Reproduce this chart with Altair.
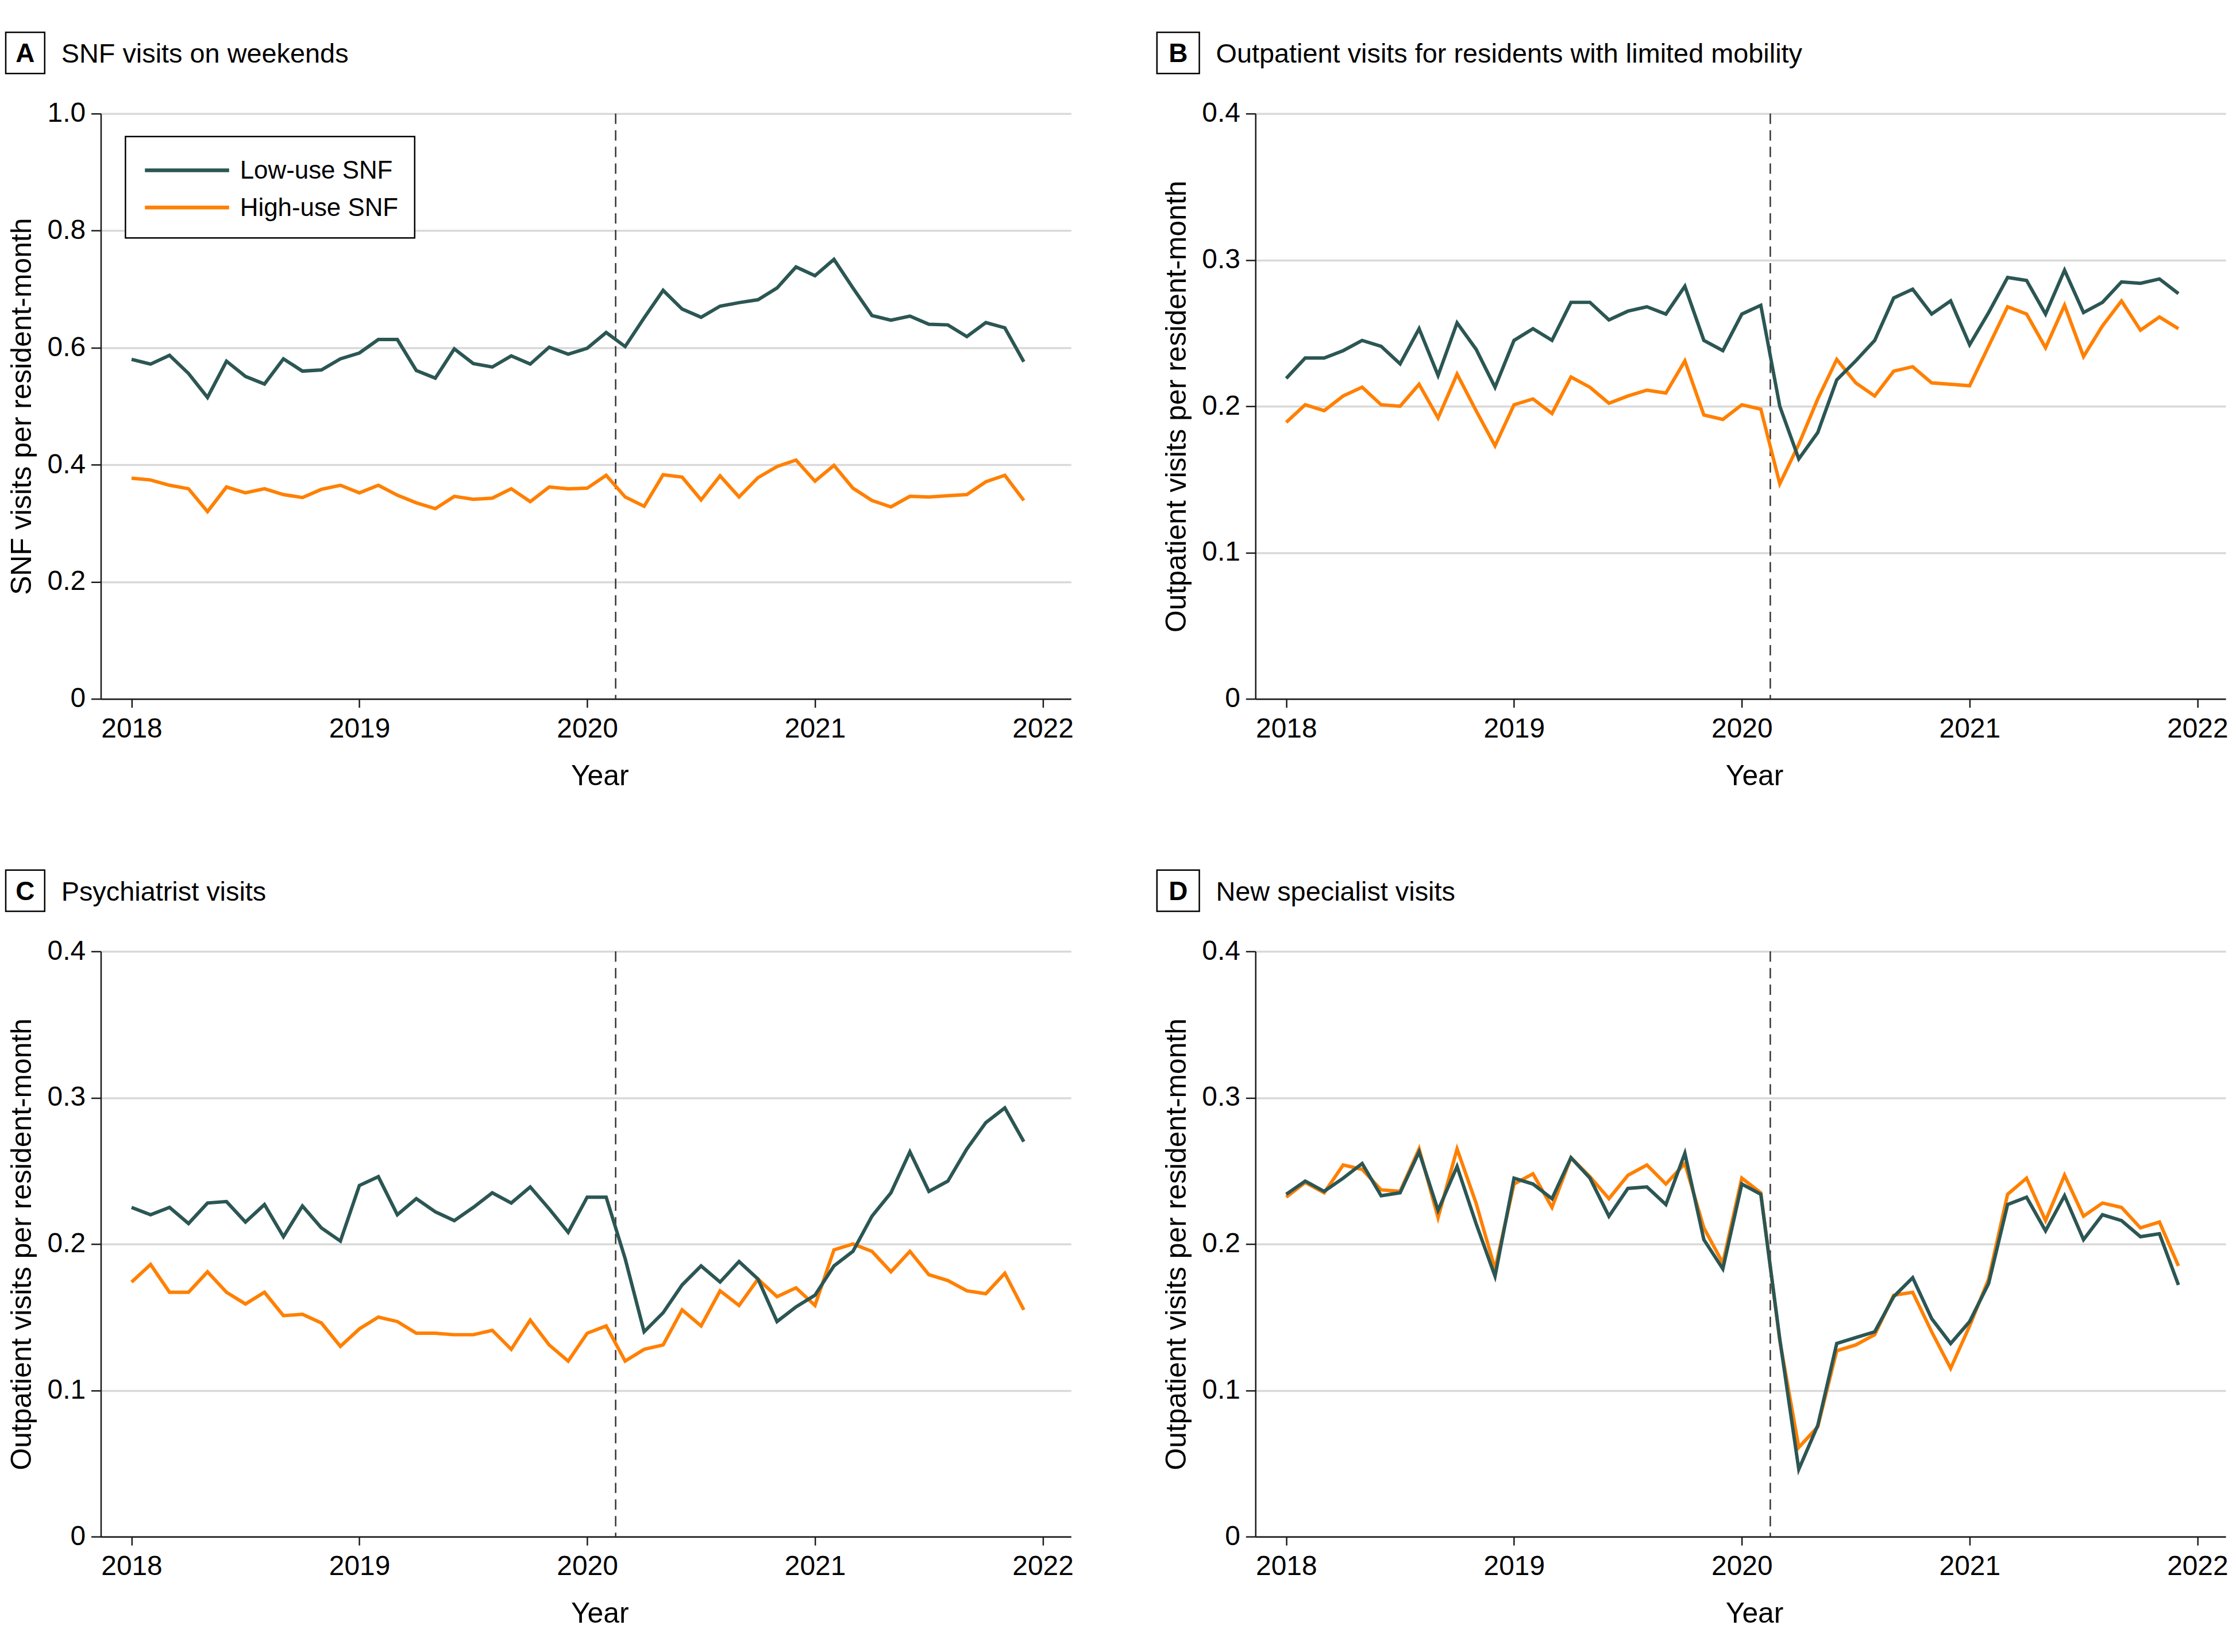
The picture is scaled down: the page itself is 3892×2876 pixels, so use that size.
import altair as alt
import pandas as pd

FONT = "Liberation Sans, Arial, sans-serif"

series_names = ["Low-use SNF", "High-use SNF"]
series_colors = ["#2b5654", "#ff8000"]
year_ticks = [2018, 2019, 2020, 2021, 2022]
month_index = list(range(48))
policy_date = [2020.125]

a_low = [0.580, 0.572, 0.587, 0.556, 0.515, 0.577, 0.551, 0.538, 0.581, 0.560, 0.562, 0.581,
         0.591, 0.614, 0.614, 0.561, 0.548, 0.598, 0.573, 0.567, 0.586, 0.572, 0.601, 0.589,
         0.599, 0.626, 0.602, 0.651, 0.698, 0.666, 0.652, 0.671, 0.677, 0.682, 0.702, 0.738,
         0.723, 0.751, 0.702, 0.655, 0.647, 0.654, 0.640, 0.639, 0.619, 0.643, 0.634, 0.576]
a_high = [0.377, 0.374, 0.365, 0.359, 0.320, 0.362, 0.352, 0.359, 0.349, 0.344, 0.358, 0.365,
          0.352, 0.365, 0.348, 0.335, 0.325, 0.346, 0.341, 0.343, 0.359, 0.337, 0.362, 0.359,
          0.360, 0.382, 0.345, 0.329, 0.383, 0.379, 0.340, 0.381, 0.345, 0.378, 0.397, 0.408,
          0.372, 0.399, 0.360, 0.339, 0.328, 0.346, 0.345, 0.347, 0.349, 0.371, 0.382, 0.339]

b_low = [0.219, 0.233, 0.233, 0.238, 0.245, 0.241, 0.229, 0.253, 0.221, 0.257, 0.239, 0.213,
         0.245, 0.253, 0.245, 0.271, 0.271, 0.259, 0.265, 0.268, 0.263, 0.282, 0.245, 0.238,
         0.263, 0.269, 0.200, 0.164, 0.182, 0.218, 0.231, 0.245, 0.274, 0.280, 0.263, 0.272,
         0.242, 0.264, 0.288, 0.286, 0.263, 0.293, 0.264, 0.271, 0.285, 0.284, 0.287, 0.277]
b_high = [0.189, 0.201, 0.197, 0.207, 0.213, 0.201, 0.200, 0.215, 0.192, 0.222, 0.197, 0.173,
          0.201, 0.205, 0.195, 0.220, 0.213, 0.202, 0.207, 0.211, 0.209, 0.231, 0.194, 0.191,
          0.201, 0.198, 0.147, 0.174, 0.205, 0.232, 0.216, 0.207, 0.224, 0.227, 0.216, 0.215,
          0.214, 0.241, 0.268, 0.263, 0.240, 0.269, 0.234, 0.255, 0.272, 0.252, 0.261, 0.253]

c_low = [0.225, 0.220, 0.225, 0.214, 0.228, 0.229, 0.215, 0.227, 0.205, 0.226, 0.211, 0.202,
         0.240, 0.246, 0.220, 0.231, 0.222, 0.216, 0.225, 0.235, 0.228, 0.239, 0.224, 0.208,
         0.232, 0.232, 0.190, 0.140, 0.153, 0.172, 0.185, 0.174, 0.188, 0.176, 0.147, 0.157,
         0.165, 0.185, 0.195, 0.219, 0.235, 0.263, 0.236, 0.243, 0.265, 0.283, 0.293, 0.270]
c_high = [0.174, 0.186, 0.167, 0.167, 0.181, 0.167, 0.159, 0.167, 0.151, 0.152, 0.146, 0.130,
          0.142, 0.150, 0.147, 0.139, 0.139, 0.138, 0.138, 0.141, 0.128, 0.148, 0.131, 0.120,
          0.139, 0.144, 0.120, 0.128, 0.131, 0.155, 0.144, 0.168, 0.158, 0.176, 0.164, 0.170,
          0.158, 0.196, 0.200, 0.195, 0.181, 0.195, 0.179, 0.175, 0.168, 0.166, 0.180, 0.155]

d_low = [0.234, 0.243, 0.236, 0.245, 0.255, 0.233, 0.235, 0.263, 0.223, 0.253, 0.214, 0.178,
         0.245, 0.241, 0.231, 0.259, 0.245, 0.219, 0.238, 0.239, 0.227, 0.262, 0.203, 0.183,
         0.241, 0.234, 0.135, 0.046, 0.076, 0.132, 0.136, 0.140, 0.164, 0.177, 0.149, 0.132,
         0.147, 0.173, 0.227, 0.232, 0.209, 0.233, 0.203, 0.220, 0.216, 0.205, 0.207, 0.172]
d_high = [0.232, 0.242, 0.235, 0.254, 0.251, 0.237, 0.236, 0.265, 0.218, 0.265, 0.228, 0.183,
          0.241, 0.248, 0.225, 0.259, 0.246, 0.231, 0.247, 0.254, 0.241, 0.255, 0.211, 0.187,
          0.245, 0.235, 0.134, 0.061, 0.075, 0.127, 0.131, 0.138, 0.165, 0.167, 0.140, 0.115,
          0.144, 0.176, 0.234, 0.245, 0.216, 0.247, 0.219, 0.228, 0.225, 0.211, 0.215, 0.185]

W, H = 1694, 1022
X_DOMAIN = [2017.865, 2022.124]

color_scale = alt.Scale(domain=series_names, range=series_colors)


def panel(letter, title, ytitle, low, high, ymax, yvals, tag_left, legend=False):
    rows = []
    for name, vals in ((series_names[0], low), (series_names[1], high)):
        for m, v in zip(month_index, vals):
            rows.append({"t": 2018 + m / 12.0, "v": v, "s": name})
    df = pd.DataFrame(rows)

    x = alt.X("t:Q", scale=alt.Scale(domain=X_DOMAIN, nice=False, zero=False),
              axis=alt.Axis(values=year_ticks, format="d", title="Year",
                            titleX=871, titleY=135, titleAlign="center",
                            titleBaseline="middle"))
    y = alt.Y("v:Q", scale=alt.Scale(domain=[0, ymax], nice=False, zero=True),
              axis=alt.Axis(values=yvals, title=ytitle,
                            labelExpr="datum.value == 0 ? '0' : format(datum.value, '.1f')",
                            titleX=-137, titleY=H / 2, titleAlign="center",
                            titleBaseline="middle", titleAngle=-90))

    rule = alt.Chart(pd.DataFrame({"t": policy_date})).mark_rule(
        color="#333333", strokeWidth=2.5, strokeDash=[18, 11]
    ).encode(x=x)

    base = alt.Chart(df)
    high_line = base.transform_filter(alt.datum.s == series_names[1]).mark_line(
        strokeWidth=6, strokeJoin="miter"
    ).encode(x=x, y=y, color=alt.Color("s:N", scale=color_scale, legend=None))
    low_line = base.transform_filter(alt.datum.s == series_names[0]).mark_line(
        strokeWidth=6, strokeJoin="miter"
    ).encode(x=x, y=y, color=alt.Color("s:N", scale=color_scale, legend=None))

    one = alt.Data(values=[{}])
    box = alt.Chart(one).mark_rect(fill="white", stroke="black", strokeWidth=2.5).encode(
        x=alt.value(tag_left), x2=alt.value(-98), y=alt.value(-142), y2=alt.value(-70))
    tag = alt.Chart(one).mark_text(text=letter, font=FONT, fontSize=46, fontWeight="bold",
                                   align="center", baseline="middle", color="black").encode(
        x=alt.value((tag_left - 98) / 2), y=alt.value(-104))
    ttl = alt.Chart(one).mark_text(text=title, font=FONT, fontSize=47, align="left",
                                   baseline="alphabetic", color="black").encode(
        x=alt.value(-69), y=alt.value(-89))

    layers = [rule, high_line, low_line, box, tag, ttl]

    if legend:
        lbox = alt.Chart(one).mark_rect(fill="white", stroke="black", strokeWidth=2.5).encode(
            x=alt.value(43), x2=alt.value(548), y=alt.value(40), y2=alt.value(217))
        layers.append(lbox)
        for i, (name, col) in enumerate(zip(series_names, series_colors)):
            yy = 99 + 65 * i
            layers.append(alt.Chart(one).mark_rule(color=col, strokeWidth=6.5).encode(
                x=alt.value(77), x2=alt.value(224), y=alt.value(yy)))
            layers.append(alt.Chart(one).mark_text(text=name, font=FONT, fontSize=44,
                                                   align="left", baseline="middle",
                                                   color="black").encode(
                x=alt.value(243), y=alt.value(yy + 2)))

    return alt.layer(*layers).properties(width=W, height=H)


ytitle_a = "SNF visits per resident-month"
ytitle_b = "Outpatient visits per resident-month"
vals_a = [0, 0.2, 0.4, 0.6, 0.8, 1.0]
vals_b = [0, 0.1, 0.2, 0.3, 0.4]

pA = panel("A", "SNF visits on weekends", ytitle_a, a_low, a_high, 1.0, vals_a, -166, legend=True)
pB = panel("B", "Outpatient visits for residents with limited mobility", ytitle_b, b_low, b_high, 0.4, vals_b, -172)
pC = panel("C", "Psychiatrist visits", ytitle_b, c_low, c_high, 0.4, vals_b, -166)
pD = panel("D", "New specialist visits", ytitle_b, d_low, d_high, 0.4, vals_b, -172)

chart = alt.concat(
    pA, pB, pC, pD, columns=2, spacing={"row": 441, "column": 322}, bounds="flush"
).properties(
    padding={"left": 0, "top": 42, "right": 5, "bottom": 5},
    background="white",
).configure_view(
    stroke=None
).configure_axis(
    labelFont=FONT, titleFont=FONT, labelFontSize=48, titleFontSize=50,
    titleFontWeight="normal", labelColor="black", titleColor="black",
    domainColor="#1a1a1a", domainWidth=2.5, tickColor="#1a1a1a", tickWidth=2.5,
    gridColor="#d9d9d9", gridWidth=3.5, labelFlush=False, labelOverlap=False,
).configure_axisX(
    grid=False, tickSize=15, labelPadding=14
).configure_axisY(
    grid=True, tickSize=17, labelPadding=10
)

chart.save("out.html", embed_options={"renderer": "svg", "actions": False})
